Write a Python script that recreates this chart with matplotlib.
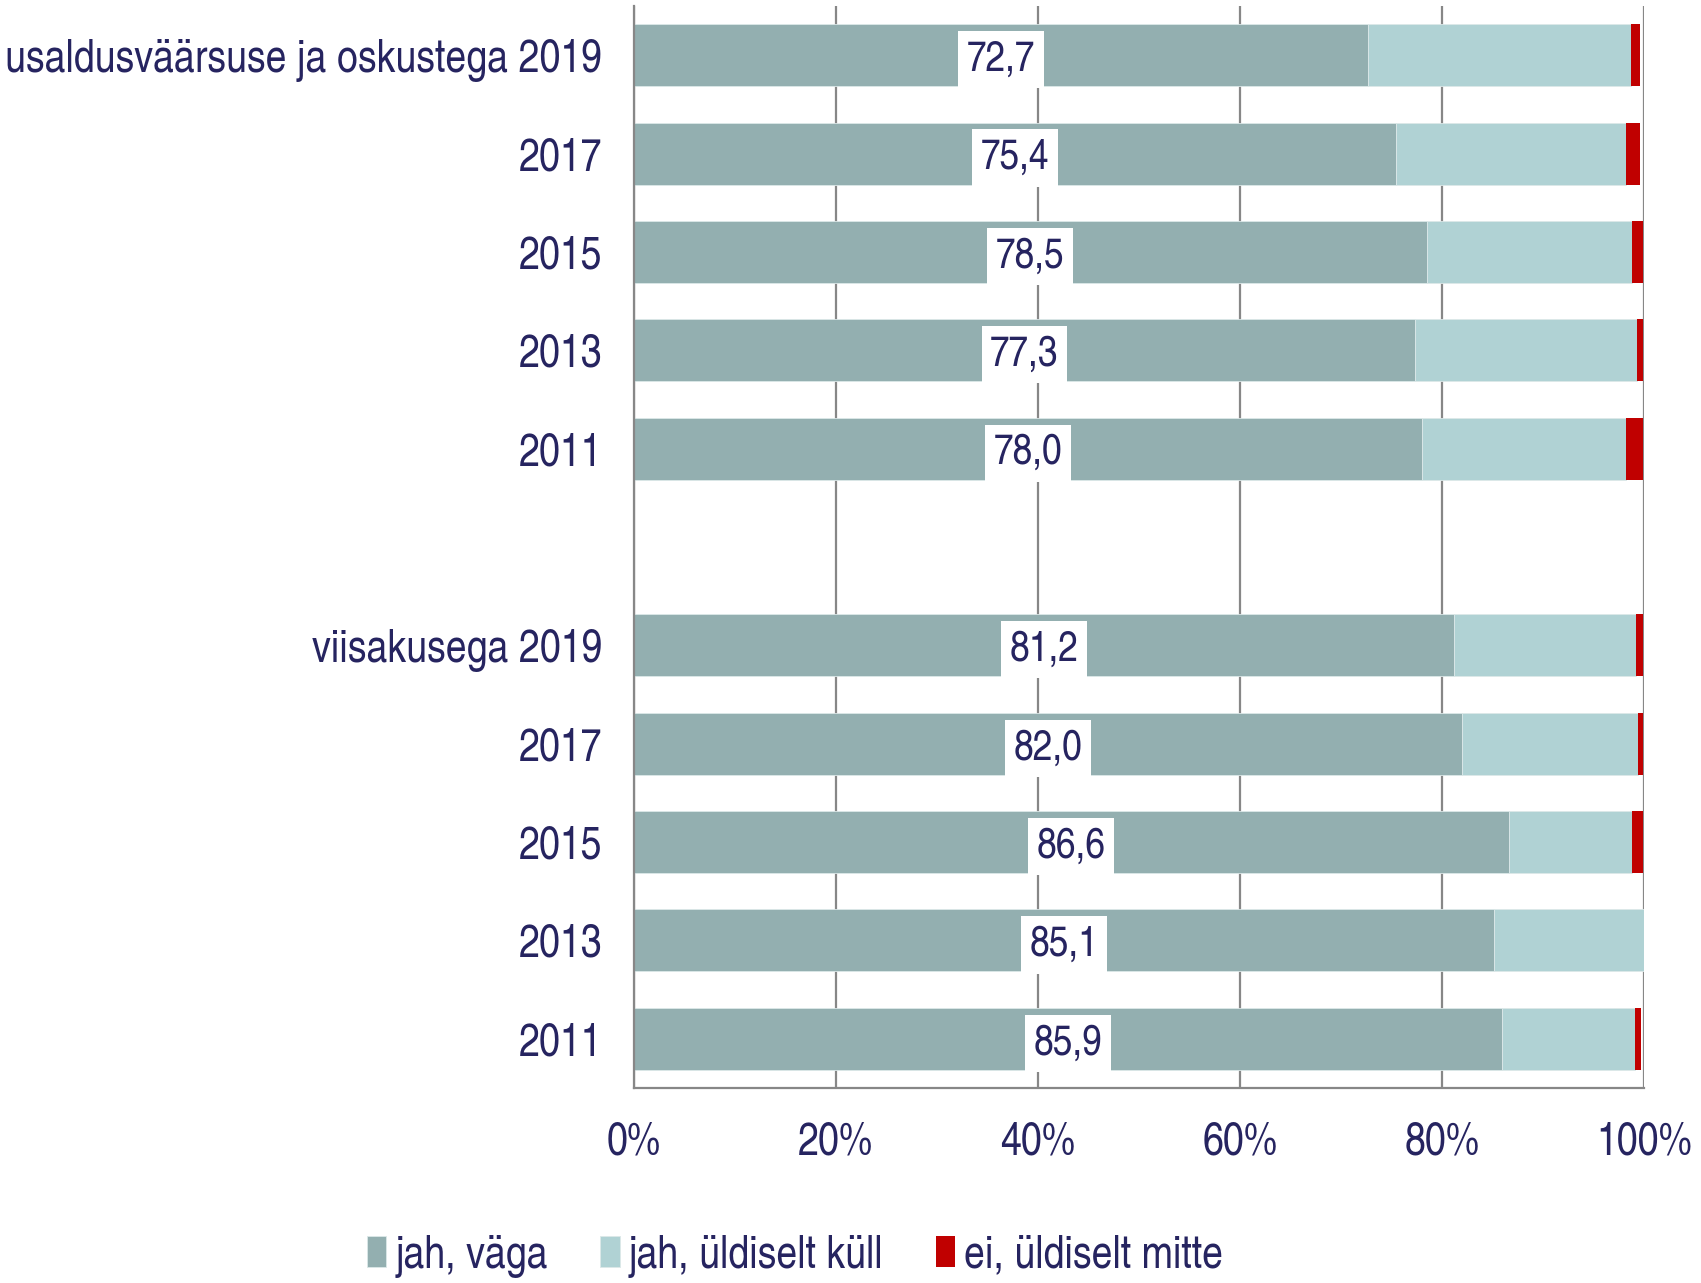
import numpy as np
import matplotlib
matplotlib.use('Agg')
from matplotlib import pyplot as plt, ticker as tk

# data, top to bottom (None = empty spacer row)
labels = ['usaldusväärsuse ja oskustega 2019', '2017', '2015', '2013', '2011', '',
          'viisakusega 2019', '2017', '2015', '2013', '2011']
vaga = [72.7, 75.4, 78.5, 77.3, 78.0, None, 81.2, 82.0, 86.6, 85.1, 85.9]
kull = [26.0, 22.8, 20.3, 22.0, 20.2, None, 18.0, 17.4, 12.2, 14.9, 13.2]
mitte = [0.9, 1.4, 1.1, 0.6, 1.7, None, 0.7, 0.5, 1.1, 0.0, 0.6]
legend_names = ['jah, väga', 'jah, üldiselt küll', 'ei, üldiselt mitte']

colors = ['#93AFB0', '#B0D2D4', '#C00000']
navy = '#262460'
grey = '#878787'

plt.rcParams['font.family'] = ['TeX Gyre Heros Cn', 'Liberation Sans', 'DejaVu Sans']

fig = plt.figure(figsize=(17.01, 12.83), dpi=100)
ax = fig.add_axes([0.3727, 0.152, 0.5938, 0.8433])

y = np.arange(len(labels))
rows = [i for i in range(len(labels)) if vaga[i] is not None]
v = np.array([vaga[i] for i in rows])
k = np.array([kull[i] for i in rows])
m = np.array([mitte[i] for i in rows])
yy = y[rows]

h = 0.63
ax.barh(yy, v, height=h, color=colors[0], label=legend_names[0], zorder=3,
        edgecolor='#dce8e8', linewidth=0.6)
ax.barh(yy, k, left=v, height=h, color=colors[1], label=legend_names[1], zorder=3,
        edgecolor='#dce8e8', linewidth=0.6)
ax.barh(yy, m, left=v + k, height=h, color=colors[2], label=legend_names[2], zorder=3,
        linewidth=0)

for yi, val in zip(yy, v):
    ax.text(val / 2, yi, f'{val:.1f}'.replace('.', ','), ha='center', va='center_baseline',
            fontsize=31, color=navy, zorder=5,
            bbox=dict(boxstyle='square,pad=0.2', fc='white', ec='none'))

ax.set_xlim(0, 100)
ax.set_ylim(len(labels) - 0.5, -0.5)
ax.set_yticks(y)
ax.set_yticklabels(labels)
ax.xaxis.set_major_locator(tk.MultipleLocator(20))
ax.xaxis.set_major_formatter(tk.FuncFormatter(lambda x, p: f'{x:.0f}%'))
ax.tick_params(axis='both', length=0, labelsize=33, colors=navy)
ax.tick_params(axis='x', pad=24)
ax.tick_params(axis='y', pad=23)

ax.grid(axis='x', color=grey, linewidth=1.6, zorder=0)
ax.set_axisbelow(True)
for s in ['top', 'right']:
    ax.spines[s].set_visible(False)
for s in ['left', 'bottom']:
    ax.spines[s].set_color(grey)
    ax.spines[s].set_linewidth(1.6)
    ax.spines[s].set_zorder(4)

leg = fig.legend(loc='center', bbox_to_anchor=(0.4674, 0.021), ncol=3, frameon=False,
                 fontsize=33, handlelength=0.42, handleheight=0.65, handletextpad=0.2,
                 columnspacing=1.15, labelcolor=navy)

fig.savefig('out.png', dpi=100)
